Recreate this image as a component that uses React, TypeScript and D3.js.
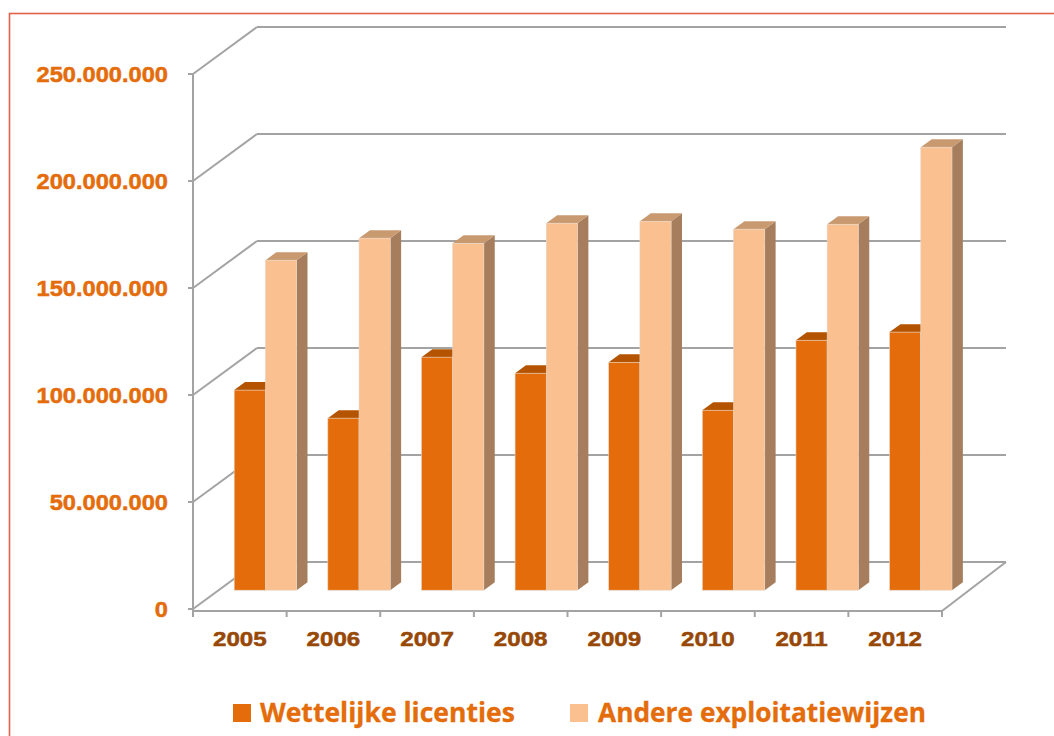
import React from "react";
import { scaleLinear, scaleBand, range } from "d3";

// yearly revenue, two series (values in euro)
const categories = ["2005", "2006", "2007", "2008", "2009", "2010", "2011", "2012"];
const wettelijkeLicenties = [93500000, 80400000, 108900000, 101400000, 106500000, 84100000, 116800000, 120600000];
const andereExploitatie = [154200000, 164500000, 162100000, 171500000, 172400000, 168700000, 171000000, 207000000];
const yTicks = [0, 50000000, 100000000, 150000000, 200000000, 250000000];
const seriesNames = ["Wettelijke licenties", "Andere exploitatiewijzen"];

const ORANGE = "#E46C0A";
const LIGHT = "#FAC090";
const BROWN = "#974806";
const GRID = "#A3A3A3";

const fmt = (v: number) => v === 0 ? "0" : v.toLocaleString("de-DE");

// depth offset of the 3d box (full depth)
const DX = 64;
const DY = -47;

export default function App() {
  const x = scaleBand<string>().domain(categories).range([193, 942]);
  const y = scaleLinear().domain([0, 250000000]).range([609, 74]);

  const dFront = 0.4;
  const dBar = 0.17;
  const band = x.bandwidth();
  const barW = band / 3;

  const series = [
    { values: wettelijkeLicenties, front: ORANGE, top: "#B55400", side: "#9A4A08" },
    { values: andereExploitatie, front: LIGHT, top: "#C99A70", side: "#A67E5D" },
  ];

  const bars: React.ReactNode[] = [];
  categories.forEach((c, i) => {
    series.forEach((s, j) => {
      const ox = DX * dFront;
      const oy = DY * dFront;
      const x0 = (x(c) as number) + ox + band / 6 + j * barW;
      const x1 = x0 + barW;
      const yt = y(s.values[i]) + oy;
      const yb = y(0) + oy;
      const ddx = DX * dBar;
      const ddy = DY * dBar;
      bars.push(
        <g key={c + j}>
          <polygon
            points={`${x1},${yt} ${x1 + ddx},${yt + ddy} ${x1 + ddx},${yb + ddy} ${x1},${yb}`}
            fill={s.side}
          />
          <polygon
            points={`${x0},${yt} ${x1},${yt} ${x1 + ddx},${yt + ddy} ${x0 + ddx},${yt + ddy}`}
            fill={s.top}
          />
          <rect x={x0} y={yt} width={barW} height={yb - yt} fill={s.front} stroke="#e6d6c8" strokeWidth={0.6} />
        </g>
      );
    });
  });

  const left = 193;
  const right = 942;
  const labelFont = "Liberation Sans, Arial, sans-serif";

  return (
    <svg width={1054} height={736} style={{ position: "absolute", left: 0, top: 0, background: "#fff" }}>
      <rect x={9.5} y={13.5} width={1100} height={800} fill="none" stroke="#E0604A" strokeWidth={1.6} />

      {/* back wall + side wall gridlines */}
      {yTicks.map((t) => (
        <g key={t} stroke={GRID} strokeWidth={2} fill="none">
          <line x1={left} y1={y(t)} x2={left + DX} y2={y(t) + DY} />
          <line x1={left + DX} y1={y(t) + DY} x2={right + DX} y2={y(t) + DY} />
          <line x1={left - 5} y1={y(t)} x2={left} y2={y(t)} />
        </g>
      ))}
      <g stroke={GRID} strokeWidth={2} fill="none">
        <line x1={left} y1={y(250000000)} x2={left} y2={y(0) + 3} />
        <line x1={left} y1={y(0) + 2} x2={right} y2={y(0) + 2} />
        <line x1={right} y1={y(0) + 2} x2={right + DX} y2={y(0) + DY} />
        {range(categories.length + 1).map((i) => (
          <line key={i} x1={left + i * band} y1={y(0) + 2} x2={left + i * band} y2={y(0) + 8} />
        ))}
      </g>

      {bars}

      {/* value axis labels */}
      {yTicks.map((t) => (
        <text
          key={t}
          transform={`translate(168,${y(t) + 8}) scale(1.1,1)`}
          textAnchor="end"
          fill={ORANGE}
          stroke={ORANGE}
          strokeWidth={0.5}
          fontFamily={labelFont}
          fontWeight="bold"
          fontSize={21.5}
        >
          {fmt(t)}
        </text>
      ))}

      {/* category labels */}
      {categories.map((c) => (
        <text
          key={c}
          transform={`translate(${(x(c) as number) + band / 2},646) scale(1.15,1)`}
          textAnchor="middle"
          fill={BROWN}
          stroke={BROWN}
          strokeWidth={0.5}
          fontFamily={labelFont}
          fontWeight="bold"
          fontSize={21}
        >
          {c}
        </text>
      ))}

      {/* legend */}
      <rect x={233} y={704} width={18} height={18} fill={ORANGE} />
      <text x={260} y={722} fill={ORANGE} stroke={ORANGE} strokeWidth={0.3} fontFamily="Open Sans, sans-serif"
        fontWeight="bold" fontSize={26} textLength={255} lengthAdjust="spacingAndGlyphs">
        {seriesNames[0]}
      </text>
      <rect x={570} y={704} width={18} height={18} fill={LIGHT} />
      <text x={598} y={722} fill={ORANGE} stroke={ORANGE} strokeWidth={0.3} fontFamily="Open Sans, sans-serif"
        fontWeight="bold" fontSize={26} textLength={328} lengthAdjust="spacingAndGlyphs">
        {seriesNames[1]}
      </text>
    </svg>
  );
}
